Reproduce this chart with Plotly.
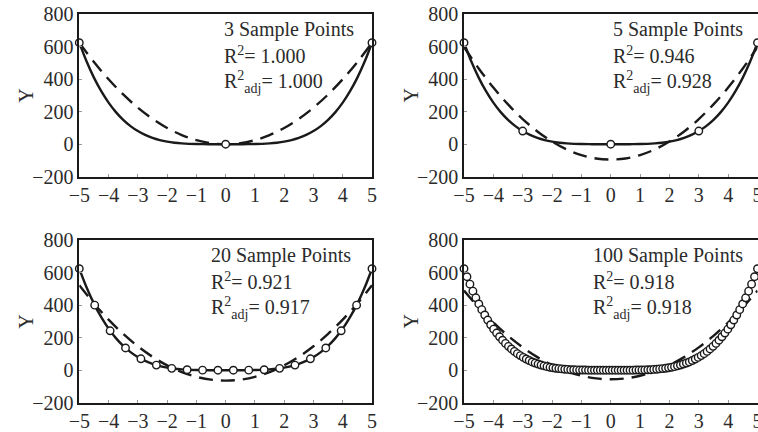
import plotly.graph_objects as go

# ---------------- data ----------------
# true curve (solid line)
curve_x = [-5, -4.75, -4.5, -4.25, -4, -3.75, -3.5, -3.25, -3, -2.75, -2.5, -2.25, -2, -1.75, -1.5,
           -1.25, -1, -0.75, -0.5, -0.25, 0, 0.25, 0.5, 0.75, 1, 1.25, 1.5, 1.75, 2, 2.25, 2.5,
           2.75, 3, 3.25, 3.5, 3.75, 4, 4.25, 4.5, 4.75, 5]
curve_y = [625, 509.1, 410.1, 326.3, 256, 197.8, 150.1, 111.6, 81, 57.2, 39.1, 25.6, 16, 9.4, 5.1,
           2.4, 1, 0.3, 0.1, 0, 0, 0, 0.1, 0.3, 1, 2.4, 5.1, 9.4, 16, 25.6, 39.1,
           57.2, 81, 111.6, 150.1, 197.8, 256, 326.3, 410.1, 509.1, 625]

# fitted quadratic curves (dashed lines)
fit_x = [-5, -4.5, -4, -3.5, -3, -2.5, -2, -1.5, -1, -0.5, 0, 0.5, 1, 1.5, 2, 2.5, 3, 3.5, 4, 4.5, 5]
fit3_y = [625, 506.3, 400, 306.3, 225, 156.3, 100, 56.3, 25, 6.3, 0,
          6.3, 25, 56.3, 100, 156.3, 225, 306.3, 400, 506.3, 625]
fit5_y = [598.4, 466.7, 348.9, 245.0, 154.9, 78.7, 16.3, -32.2, -66.9, -87.7, -94.6,
          -87.7, -66.9, -32.2, 16.3, 78.7, 154.9, 245.0, 348.9, 466.7, 598.4]
fit20_y = [522.9, 411.4, 311.6, 223.5, 147.2, 82.7, 29.8, -11.3, -40.6, -58.2, -64.1,
           -58.2, -40.6, -11.3, 29.8, 82.7, 147.2, 223.5, 311.6, 411.4, 522.9]
fit100_y = [490.2, 386.5, 293.6, 211.7, 140.8, 80.7, 31.6, -6.7, -34.0, -50.3, -55.8,
            -50.3, -34.0, -6.7, 31.6, 80.7, 140.8, 211.7, 293.6, 386.5, 490.2]

# sample points
s3_x = [-5, 0, 5]
s3_y = [625, 0, 625]
s5_x = [-5, -3, 0, 3, 5]
s5_y = [625, 81, 0, 81, 625]
s20_x = [-5.000, -4.474, -3.947, -3.421, -2.895, -2.368, -1.842, -1.316, -0.789, -0.263,
         0.263, 0.789, 1.316, 1.842, 2.368, 2.895, 3.421, 3.947, 4.474, 5.000]
s20_y = [625, 400.6, 242.8, 137.0, 70.2, 31.5, 11.5, 3.0, 0.4, 0.0,
         0.0, 0.4, 3.0, 11.5, 31.5, 70.2, 137.0, 242.8, 400.6, 625]
s100_x = [-5.000, -4.899, -4.798, -4.697, -4.596, -4.495, -4.394, -4.293, -4.192, -4.091,
          -3.990, -3.889, -3.788, -3.687, -3.586, -3.485, -3.384, -3.283, -3.182, -3.081,
          -2.980, -2.879, -2.778, -2.677, -2.576, -2.475, -2.374, -2.273, -2.172, -2.071,
          -1.970, -1.869, -1.768, -1.667, -1.566, -1.465, -1.364, -1.263, -1.162, -1.061,
          -0.960, -0.859, -0.758, -0.657, -0.556, -0.455, -0.354, -0.253, -0.152, -0.051,
          0.051, 0.152, 0.253, 0.354, 0.455, 0.556, 0.657, 0.758, 0.859, 0.960,
          1.061, 1.162, 1.263, 1.364, 1.465, 1.566, 1.667, 1.768, 1.869, 1.970,
          2.071, 2.172, 2.273, 2.374, 2.475, 2.576, 2.677, 2.778, 2.879, 2.980,
          3.081, 3.182, 3.283, 3.384, 3.485, 3.586, 3.687, 3.788, 3.889, 3.990,
          4.091, 4.192, 4.293, 4.394, 4.495, 4.596, 4.697, 4.798, 4.899, 5.000]
s100_y = [625, 576, 530, 487, 446, 408, 373, 340, 309, 280,
          253, 229, 206, 185, 165, 147, 131, 116, 102, 90,
          79, 69, 60, 51, 44, 38, 32, 27, 22, 18,
          15, 12, 10, 8, 6, 5, 3, 3, 2, 1,
          1, 1, 0, 0, 0, 0, 0, 0, 0, 0,
          0, 0, 0, 0, 0, 0, 0, 0, 1, 1,
          1, 2, 3, 3, 5, 6, 8, 10, 12, 15,
          18, 22, 27, 32, 38, 44, 51, 60, 69, 79,
          90, 102, 116, 131, 147, 165, 185, 206, 229, 253,
          280, 309, 340, 373, 408, 446, 487, 530, 576, 625]

panel_titles = ["3 Sample Points", "5 Sample Points", "20 Sample Points", "100 Sample Points"]
r2_values = ["1.000", "0.946", "0.921", "0.918"]
r2adj_values = ["1.000", "0.928", "0.917", "0.918"]

x_tickvals = [-5, -4, -3, -2, -1, 0, 1, 2, 3, 4, 5]
x_ticktext = ["\u22125", "\u22124", "\u22123", "\u22122", "\u22121", "0", "1", "2", "3", "4", "5"]
y_tickvals = [-200, 0, 200, 400, 600, 800]
y_ticktext = ["\u2212200", "0", "200", "400", "600", "800"]

# ---------------- layout helpers ----------------
W, H = 758, 432
FONT = "Liberation Serif"
TXT = "#2b2b2b"

def fx(px):
    return px / W

def fy(py):
    return 1 - py / H

# pixel boxes: (left, right, top, bottom)
boxes = [(79.3, 372.0, 14.3, 176.7),
         (464.0, 757.5, 14.3, 176.7),
         (79.3, 372.0, 240.3, 402.7),
         (464.0, 757.5, 240.3, 402.7)]

panels = [(s3_x, s3_y, fit3_y), (s5_x, s5_y, fit5_y), (s20_x, s20_y, fit20_y), (s100_x, s100_y, fit100_y)]

fig = go.Figure()
layout = dict(
    width=W, height=H,
    margin=dict(l=0, r=0, t=0, b=0, pad=0, autoexpand=False),
    paper_bgcolor="white", plot_bgcolor="white",
    showlegend=False,
    font=dict(family=FONT, size=20, color=TXT),
)
annotations = []

for i, ((sx, sy, fyv), (l, r, t, b)) in enumerate(zip(panels, boxes)):
    n = "" if i == 0 else str(i + 1)
    xa, ya = "x" + n, "y" + n
    fig.add_trace(go.Scatter(x=fit_x, y=fyv, mode="lines", xaxis=xa, yaxis=ya,
                             line=dict(color="#1a1a1a", width=2.4, dash="14px,8px", shape="spline"),
                             cliponaxis=False, hoverinfo="skip"))
    fig.add_trace(go.Scatter(x=curve_x, y=curve_y, mode="lines", xaxis=xa, yaxis=ya,
                             line=dict(color="#1a1a1a", width=2.4, shape="spline"),
                             cliponaxis=False, hoverinfo="skip"))
    fig.add_trace(go.Scatter(x=sx, y=sy, mode="markers", xaxis=xa, yaxis=ya,
                             marker=dict(symbol="circle", size=7.5, color="white",
                                         line=dict(color="#1a1a1a", width=1.4)),
                             cliponaxis=False))
    axis_common = dict(showline=True, mirror=True, linecolor="#1a1a1a", linewidth=1.5,
                       ticks="inside", ticklen=3, tickcolor="#999999", tickwidth=1,
                       showgrid=False, zeroline=False, ticklabeloverflow="allow",
                       automargin=False,
                       tickfont=dict(family=FONT, size=20, color=TXT))
    layout["xaxis" + n] = dict(domain=[fx(l), fx(r)], range=[-5, 5], anchor=ya,
                               tickmode="array", tickvals=x_tickvals, ticktext=x_ticktext,
                               **axis_common)
    layout["yaxis" + n] = dict(domain=[fy(b), fy(t)], range=[-200, 800], anchor=xa,
                               tickmode="array", tickvals=y_tickvals, ticktext=y_ticktext,
                               **axis_common)
    # Y title
    annotations.append(dict(xref="paper", yref="paper", x=fx(l - 54), y=fy((t + b) / 2),
                            text="Y", showarrow=False, textangle=-90,
                            xanchor="center", yanchor="middle",
                            font=dict(family=FONT, size=20, color=TXT)))
    # text block
    tx = [222, 611, 209, 591][i]
    ty = t + 15
    annotations.append(dict(xref="paper", yref="paper", x=fx(tx), y=fy(ty),
                            text=panel_titles[i], showarrow=False, xanchor="left", yanchor="middle",
                            font=dict(family=FONT, size=20, color=TXT)))
    annotations.append(dict(xref="paper", yref="paper", x=fx(tx), y=fy(ty + 26),
                            text="R<sup>2</sup>= " + r2_values[i], showarrow=False,
                            xanchor="left", yanchor="middle",
                            font=dict(family=FONT, size=20, color=TXT)))
    annotations.append(dict(xref="paper", yref="paper", x=fx(tx), y=fy(ty + 53),
                            text="R<sup>2</sup><sub>adj</sub>= " + r2adj_values[i], showarrow=False,
                            xanchor="left", yanchor="middle",
                            font=dict(family=FONT, size=20, color=TXT)))

layout["annotations"] = annotations
fig.update_layout(**layout)
fig.write_html("out.html", config={"displayModeBar": False},
               post_script="document.body.style.margin='0px';document.body.style.overflow='hidden';")
